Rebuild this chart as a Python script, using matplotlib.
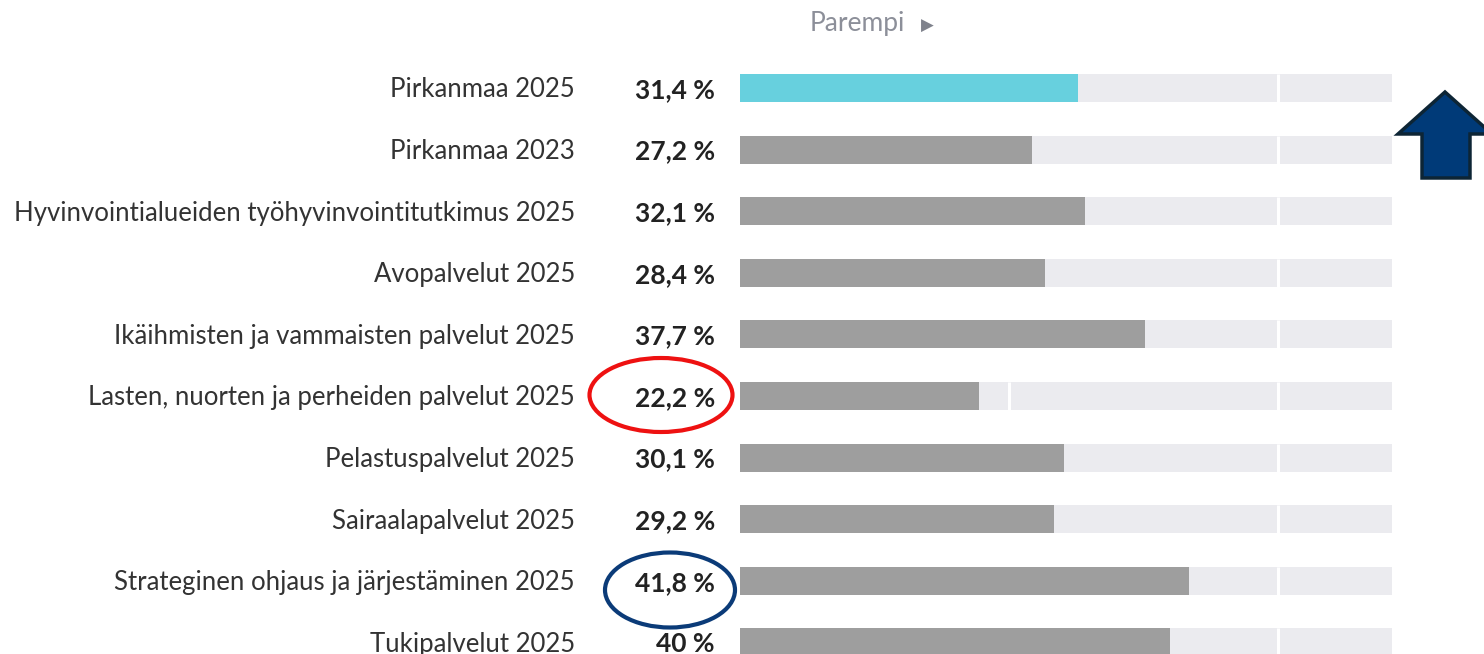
import matplotlib
matplotlib.use("Agg")
import matplotlib.pyplot as plt
import matplotlib.transforms as mtransforms
from matplotlib.patches import Ellipse, Polygon

categories = [
    "Pirkanmaa 2025",
    "Pirkanmaa 2023",
    "Hyvinvointialueiden työhyvinvointitutkimus 2025",
    "Avopalvelut 2025",
    "Ikäihmisten ja vammaisten palvelut 2025",
    "Lasten, nuorten ja perheiden palvelut 2025",
    "Pelastuspalvelut 2025",
    "Sairaalapalvelut 2025",
    "Strateginen ohjaus ja järjestäminen 2025",
    "Tukipalvelut 2025",
]
values = [31.4, 27.2, 32.1, 28.4, 37.7, 22.2, 30.1, 29.2, 41.8, 40.0]
value_labels = ["31,4 %", "27,2 %", "32,1 %", "28,4 %", "37,7 %",
                "22,2 %", "30,1 %", "29,2 %", "41,8 %", "40 %"]
# reference marks (white gaps) inside background track
gap_marks = [[50], [50], [50], [50], [50], [25, 50], [50], [50], [50], [50]]
scale_max = 60.65

W, H = 1484, 654
fig = plt.figure(figsize=(W / 100, H / 100), dpi=100)
fig.patch.set_facecolor("white")

row0, step = 88, 61.6
ax = fig.add_axes([740 / W, 0, 652 / W, 1])
ax.set_xlim(0, scale_max)
ax.set_ylim((H - row0) / step, -row0 / step)
ax.axis("off")

bar_h = 0.455
n = len(categories)
ys = list(range(n))
ax.barh(ys, [scale_max] * n, height=bar_h, left=0, color="#ebebef", zorder=1)
colors = ["#67d0de"] + ["#9e9e9e"] * (n - 1)
ax.barh(ys, values, height=bar_h, left=0, color=colors, zorder=2)
for i, marks in enumerate(gap_marks):
    for m in marks:
        if m > values[i]:
            ax.plot([m, m], [i - bar_h / 2, i + bar_h / 2], color="white", lw=2.2,
                    solid_capstyle="butt", zorder=3)

fam = ["Lato", "DejaVu Sans"]
tr = mtransforms.blended_transform_factory(fig.transFigure, ax.transData)
for i in ys:
    ax.text(575 / W, i + 0.03, categories[i], transform=tr, ha="right", va="center",
            fontsize=18.5, color="#333333", family=fam)
    ax.text(715 / W, i + 0.03, value_labels[i], transform=tr, ha="right", va="center",
            fontsize=19, color="#222222", fontweight="bold", family=fam)

# overlay for annotations
ov = fig.add_axes([0, 0, 1, 1], facecolor="none")
ov.set_xlim(0, W)
ov.set_ylim(H, 0)
ov.axis("off")
ov.text(810, 24, "Parempi", ha="left", va="center", fontsize=19,
        color="#8c8f99", family=fam)
ov.text(921, 26, "▶", ha="left", va="center", fontsize=12, color="#7f828c",
        family=["DejaVu Sans"])

ov.add_patch(Ellipse((661, 395), 143, 74, fill=False, ec="#ee1111", lw=3))
ov.add_patch(Ellipse((670, 590), 130, 75, fill=False, ec="#0b3b78", lw=3))

arrow = [(1445, 92), (1398, 134), (1422, 134), (1422, 178), (1470, 178),
         (1470, 134), (1492, 134)]
ov.add_patch(Polygon(arrow, closed=True, fc="#003a78", ec="#0d2535", lw=2.5,
                     clip_on=False))

fig.savefig("out.png", dpi=100)
